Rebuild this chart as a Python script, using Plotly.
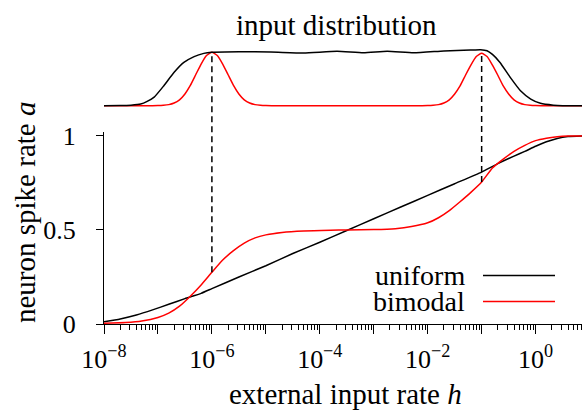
import plotly.graph_objects as go

W, H = 582, 411
FONT = "Liberation Serif"

# ---------------- data ----------------
# bottom panel: neuron spike rate a versus log10(h)
uni_exp = [-8.0, -7.7, -7.4, -7.1, -6.8, -6.5, -6.2, -6.0, -5.5, -5.0, -4.5, -4.0, -3.5,
           -3.0, -2.5, -2.0, -1.5, -1.0, -0.7, -0.4, -0.2, 0.0, 0.2, 0.4, 0.6, 0.86]
uni_a = [0.012, 0.027, 0.048, 0.075, 0.105, 0.135, 0.163, 0.188, 0.25, 0.31, 0.375, 0.435, 0.497,
         0.56, 0.622, 0.684, 0.746, 0.808, 0.853, 0.893, 0.918, 0.945, 0.969, 0.987, 0.997, 1.0]

bi_exp = [-8.0, -7.6, -7.3, -7.0, -6.8, -6.6, -6.4, -6.2, -6.0, -5.8, -5.6, -5.4, -5.2, -5.0,
          -4.7, -4.3, -3.8, -3.5, -3.0, -2.6, -2.3, -2.0, -1.8, -1.6, -1.4, -1.2, -1.0, -0.8,
          -0.6, -0.4, -0.2, 0.0, 0.2, 0.4, 0.6, 0.86]
bi_a = [0.004, 0.008, 0.016, 0.035, 0.058, 0.095, 0.148, 0.208, 0.275, 0.34, 0.39, 0.43, 0.458, 0.474,
        0.487, 0.495, 0.499, 0.5, 0.502, 0.507, 0.518, 0.538, 0.565, 0.603, 0.65, 0.7, 0.755, 0.83,
        0.877, 0.918, 0.95, 0.975, 0.988, 0.996, 1.0, 1.0]

# top panel: input distribution (relative density) versus log10(h)
uni_d_exp = [-8.0, -7.7, -7.5, -7.32, -7.2, -7.07, -6.89, -6.7, -6.52, -6.33, -6.15, -6.0, -5.5,
             -4.91, -4.3, -3.68, -3.19, -2.75, -2.26, -1.7, -1.21, -1.02, -0.9, -0.8, -0.66, -0.47,
             -0.28, -0.09, 0.09, 0.33, 0.5, 0.86]
uni_d = [0.0, 0.002, 0.01, 0.03, 0.08, 0.16, 0.375, 0.625, 0.81, 0.92, 0.98, 1.0, 1.01,
         1.006, 0.987, 1.018, 0.99, 1.018, 0.99, 1.025, 1.043, 1.05, 1.03, 0.96, 0.81, 0.53,
         0.28, 0.125, 0.045, 0.01, 0.0, 0.0]

bi_d_exp = [-8.0, -7.2, -7.0, -6.9, -6.8, -6.7, -6.6, -6.5, -6.4, -6.3, -6.2, -6.1, -6.0, -5.9,
            -5.8, -5.7, -5.6, -5.5, -5.4, -5.3, -5.2, -5.1, -5.0, -4.8, -3.0, -2.2, -2.0, -1.9,
            -1.8, -1.7, -1.6, -1.5, -1.4, -1.3, -1.2, -1.1, -1.0, -0.9, -0.8, -0.7, -0.6, -0.5,
            -0.4, -0.3, -0.2, -0.1, 0.0, 0.2, 0.86]
bi_d = [0.0, 0.0, 0.003, 0.008, 0.02, 0.05, 0.11, 0.22, 0.38, 0.58, 0.78, 0.94, 1.0, 0.94,
        0.78, 0.58, 0.38, 0.22, 0.11, 0.05, 0.02, 0.008, 0.003, 0.0, 0.0, 0.0, 0.003, 0.008,
        0.02, 0.05, 0.11, 0.22, 0.37, 0.57, 0.76, 0.92, 0.98, 0.92, 0.76, 0.57, 0.37, 0.22,
        0.11, 0.05, 0.02, 0.008, 0.003, 0.0, 0.0]

# peaks of the bimodal input (log10 h)
peak_exp = [-6.0, -1.0]

x_tick_exp = [-8, -7, -6, -5, -4, -3, -2, -1, 0]
y_ticks = [0, 0.5, 1]
y_tick_text = ["0", "0.5", "1"]
series_names = ["uniform", "bimodal"]
series_colors = ["#000000", "#ff0000"]

# ---------------- layout geometry ----------------
ML = 104
PW = W - ML
X_RANGE = [-8, 0.86]

Y1_RANGE = [0, 1.02]
Y1_DOM = [1 - 324 / H, 1 - 132.2 / H]
Y2_RANGE = [-0.06, 1.12]
Y2_DOM = [1 - 108.9 / H, 1 - 45.9 / H]


def to_paper(v, rng, dom):
    return dom[0] + (v - rng[0]) / (rng[1] - rng[0]) * (dom[1] - dom[0])


def px_x(px):
    return (px - ML) / PW


def px_y(py):
    return 1 - py / H


fig = go.Figure()

curve = dict(width=1.5, shape="spline", smoothing=0.5)
fig.add_trace(go.Scatter(x=[10 ** e for e in uni_exp], y=uni_a, mode="lines",
                         line=dict(color=series_colors[0], **curve), xaxis="x", yaxis="y"))
fig.add_trace(go.Scatter(x=[10 ** e for e in bi_exp], y=bi_a, mode="lines",
                         line=dict(color=series_colors[1], **curve), xaxis="x", yaxis="y"))
fig.add_trace(go.Scatter(x=[10 ** e for e in bi_d_exp], y=bi_d, mode="lines",
                         line=dict(color=series_colors[1], **curve), xaxis="x", yaxis="y2"))
fig.add_trace(go.Scatter(x=[10 ** e for e in uni_d_exp], y=uni_d, mode="lines",
                         line=dict(color=series_colors[0], **curve), xaxis="x", yaxis="y2"))

shapes = []
# dashed guide lines from the input peaks down to the bimodal response curve
for pe in peak_exp:
    top_val = bi_d[bi_d_exp.index(pe)]
    bot_val = bi_a[bi_exp.index(pe)]
    shapes.append(dict(type="line", xref="x", yref="paper",
                       x0=10 ** pe, x1=10 ** pe,
                       y0=to_paper(bot_val, Y1_RANGE, Y1_DOM),
                       y1=to_paper(top_val, Y2_RANGE, Y2_DOM),
                       line=dict(color="black", width=1.5, dash="6px,4px")))

annotations = []
# manual legend: text on the left, line sample on the right
leg_y = [275.5, 301.5]
for name, col, ly in zip(series_names, series_colors, leg_y):
    annotations.append(dict(text=name, xref="paper", yref="paper", x=px_x(467), y=px_y(ly),
                            xanchor="right", yanchor="middle", showarrow=False,
                            font=dict(family=FONT, size=28, color="black")))
    shapes.append(dict(type="line", xref="paper", yref="paper",
                       x0=px_x(483), x1=px_x(555), y0=px_y(ly), y1=px_y(ly),
                       line=dict(color=col, width=1.5)))

annotations.append(dict(text="input distribution", xref="paper", yref="paper",
                        x=px_x(336), y=px_y(25), xanchor="center", yanchor="middle",
                        showarrow=False, font=dict(family=FONT, size=29, color="black")))
annotations.append(dict(text="external input rate <i>h</i>", xref="paper", yref="paper",
                        x=px_x(345), y=px_y(394), xanchor="center", yanchor="middle",
                        showarrow=False, font=dict(family=FONT, size=29, color="black")))
annotations.append(dict(text="neuron spike rate <i>a</i>", xref="paper", yref="paper",
                        x=px_x(25), y=px_y(213), xanchor="center", yanchor="middle",
                        textangle=-90, showarrow=False,
                        font=dict(family=FONT, size=29, color="black")))

major_vals = [10.0 ** e for e in x_tick_exp]
major_text = [("10<sup>\u2212%d</sup>" % (-e) if e < 0 else "10<sup>%d</sup>" % e) if e % 2 == 0 else ""
              for e in x_tick_exp]
minor_vals = [k * 10.0 ** e for e in x_tick_exp for k in range(2, 10) if k * 10.0 ** e <= 10 ** X_RANGE[1]]

fig.update_layout(
    width=W, height=H,
    margin=dict(l=ML, r=0, t=0, b=0, pad=0, autoexpand=False),
    paper_bgcolor="white", plot_bgcolor="white",
    showlegend=False,
    xaxis=dict(type="log", range=X_RANGE, domain=[0, 1], anchor="y", automargin=False,
               showline=True, linecolor="black", linewidth=1,
               ticks="outside", ticklen=9, tickwidth=1, tickcolor="black",
               tickmode="array", tickvals=major_vals, ticktext=major_text,
               showgrid=False, zeroline=False, ticklabelstandoff=3,
               minor=dict(ticks="outside", ticklen=5, tickwidth=1, tickcolor="black",
                          tickvals=minor_vals, showgrid=False),
               tickfont=dict(family=FONT, size=26, color="black")),
    yaxis=dict(range=Y1_RANGE, domain=Y1_DOM, anchor="x", automargin=False,
               showline=True, linecolor="black", linewidth=1,
               ticks="outside", ticklen=7, tickwidth=1, tickcolor="black",
               tickmode="array", tickvals=y_ticks, ticktext=y_tick_text,
               showgrid=False, zeroline=False, ticklabelstandoff=15,
               tickfont=dict(family=FONT, size=26, color="black")),
    yaxis2=dict(range=Y2_RANGE, domain=Y2_DOM, anchor="x", visible=False, automargin=False,
                showgrid=False, zeroline=False),
    shapes=shapes,
    annotations=annotations,
)

fig.write_html("out.html")
